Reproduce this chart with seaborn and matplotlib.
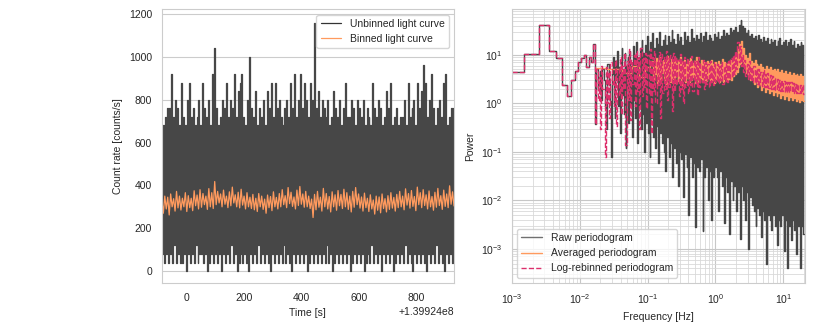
import numpy as np
import matplotlib
matplotlib.use("Agg")
import matplotlib.pyplot as plt
import seaborn as sns

# ---- light curve data ----
t_offset = 1.39924e8
t_start, t_stop = -85, 932

unbinned_peaks = [
    680, 680, 720, 760, 760, 920, 720, 800, 760, 680,
    880, 720, 680, 800, 880, 720, 760, 680, 720, 800,
    680, 880, 760, 720, 800, 680, 920, 1040, 760, 680,
    720, 800, 760, 880, 720, 800, 760, 920, 720, 840,
    880, 920, 720, 680, 800, 1000, 760, 720, 840, 680,
    760, 720, 800, 680, 840, 760, 880, 720, 880, 760,
    800, 720, 680, 760, 800, 720, 880, 760, 920, 720,
    800, 920, 760, 880, 800, 720, 880, 800, 1160, 760,
    840, 720, 800, 760, 720, 800, 680, 720, 840, 760,
    720, 800, 680, 760, 880, 720, 720, 800, 760, 680,
    800, 760, 720, 800, 680, 760, 720, 680, 880, 760,
    720, 800, 760, 680, 720, 840, 760, 880, 680, 720,
    760, 680, 720, 720, 800, 680, 880, 720, 760, 800,
    680, 880, 760, 840, 960, 880, 720, 800, 920, 760,
    680, 760, 800, 720, 880, 920, 680, 720, 760, 760,
]
unbinned_troughs = [
    80, 40, 80, 40, 80, 40, 120, 40, 80, 40,
    40, 80, 0, 80, 40, 80, 40, 120, 40, 80,
    80, 40, 80, 0, 40, 80, 40, 80, 40, 80,
    0, 80, 40, 80, 40, 120, 40, 80, 0, 40,
    80, 40, 80, 40, 0, 80, 40, 80, 40, 120,
    40, 80, 40, 80, 40, 0, 80, 40, 80, 40,
    80, 40, 120, 40, 80, 40, 0, 80, 40, 80,
    40, 80, 40, 80, 0, 40, 80, 40, 80, 40,
    80, 40, 80, 40, 120, 40, 80, 0, 40, 80,
    40, 80, 40, 80, 40, 80, 0, 40, 80, 40,
    80, 40, 80, 0, 40, 80, 40, 120, 40, 80,
    40, 80, 0, 80, 40, 80, 40, 80, 0, 40,
    80, 40, 80, 40, 120, 40, 80, 40, 0, 80,
    40, 80, 40, 80, 40, 0, 80, 40, 80, 40,
    120, 40, 80, 40, 0, 80, 40, 80, 40, 80,
]
binned_rate = [
    330, 270, 350, 290, 345, 262, 360, 300, 338, 280, 372, 295, 350, 285, 340, 300, 366, 278, 352, 296,
    340, 282, 375, 305, 355, 290, 380, 298, 362, 310, 350, 288, 385, 300, 366, 292, 418, 310, 372, 318,
    360, 300, 378, 312, 350, 296, 370, 305, 392, 318, 356, 300, 368, 295, 382, 308, 350, 290, 366, 300,
    345, 292, 358, 286, 340, 278, 362, 300, 350, 288, 336, 270, 355, 296, 348, 282, 370, 300, 344, 290,
    362, 300, 380, 310, 352, 296, 390, 315, 368, 302, 346, 290, 378, 306, 395, 312, 360, 298, 372, 300,
    350, 292, 336, 250, 358, 286, 372, 298, 345, 280, 386, 300, 362, 290, 348, 276, 370, 300, 356, 284,
    376, 305, 358, 292, 382, 300, 366, 288, 350, 276, 372, 298, 390, 310, 360, 294, 346, 280, 364, 296,
    340, 278, 356, 290, 332, 266, 350, 284, 346, 272, 360, 292, 338, 276, 352, 288, 366, 294, 344, 280,
    358, 296, 372, 300, 350, 286, 384, 308, 362, 294, 376, 302, 348, 282, 392, 310, 366, 296, 380, 306,
    356, 290, 374, 300, 348, 284, 368, 298, 386, 306, 352, 288, 378, 302, 360, 296, 398, 312, 370, 304,
]

# ---- periodogram data ----
raw_low = [
    4.4, 10.5, 41, 12, 8.7, 2.4, 1.4, 3.0, 4.6, 7.0,
    8.5, 10.0, 5.5, 9.0, 7.0, 17, 0.37, 5.0, 2.0, 4.6,
    1.2, 5.2, 3.0, 0.9, 0.3, 6.5, 2.5, 1.1, 0.08, 4.0,
    9.0, 1.0, 0.5, 7.5, 3.0, 12, 0.9, 5.5, 2.2, 0.25,
    8.0, 14, 1.5, 4.0, 0.6, 11, 3.5, 0.12, 6.0, 2.0,
]
raw_high = [
    9, 12, 6, 15, 10, 18, 8, 14, 20, 11,
    16, 25, 12, 18, 28, 14, 22, 17, 30, 15,
    20, 26, 16, 24, 18, 32, 21, 17, 27, 19,
    23, 16, 29, 20, 25, 18, 34, 22, 19, 26,
    21, 28, 18, 24, 30, 20, 26, 22, 19, 27,
    23, 29, 21, 25, 32, 24, 28, 26, 35, 30,
    33, 38, 30, 42, 52, 40, 35, 28, 32, 25,
    27, 22, 24, 20, 26, 21, 18, 23, 19, 22,
    17, 21, 18, 20, 15, 19, 22, 16, 18, 20,
    15, 18, 21, 16, 19, 14, 17, 15, 18, 16,
]
raw_dips = [
    0.4, 0.9, 0.2, 1.2, 0.5, 0.15, 0.8, 0.3, 0.6, 0.1,
    0.4, 0.25, 0.08, 0.5, 0.2, 0.12, 0.35, 0.06, 0.25, 0.15,
    0.1, 0.04, 0.2, 0.08, 0.15, 0.03, 0.12, 0.06, 0.02, 0.1,
    0.07, 0.012, 0.09, 0.05, 0.005, 0.08, 0.03, 0.06, 0.0028, 0.05,
    0.04, 0.07, 0.0024, 0.03, 0.05, 0.01, 0.04, 0.004, 0.03, 0.05,
    0.03, 0.006, 0.04, 0.02, 0.0035, 0.03, 0.015, 0.002, 0.025, 0.01,
    0.02, 0.006, 0.015, 0.0016, 0.02, 0.01, 0.004, 0.015, 0.001, 0.012,
    0.008, 0.006, 0.003, 0.007, 0.005, 0.0018, 0.006, 0.004, 0.0005, 0.005,
    0.004, 0.0025, 0.005, 0.003, 0.0012, 0.004, 0.003, 0.005, 0.0009, 0.004,
    0.0004, 0.003, 0.0015, 0.004, 0.0025, 0.0008, 0.003, 0.0004, 0.003, 0.002,
]
avg_low = [5.3, 5.0, 4.2, 6.0, 3.5, 5.5]
avg_high = [
    7.5, 6.0, 8.5, 7.0, 9.0, 6.5, 8.0, 7.2, 9.5, 6.8,
    8.2, 7.0, 8.8, 6.5, 7.8, 9.2, 7.0, 8.0, 6.6, 7.4,
    8.5, 6.8, 7.6, 9.0, 7.2, 6.4, 8.0, 7.0, 6.2, 7.5,
    6.8, 7.8, 6.5, 7.2, 6.0, 7.4, 6.6, 8.2, 7.0, 6.4,
    7.2, 8.0, 7.5, 9.0, 10.5, 13.0, 16.5, 19.0, 14.0, 10.0,
    8.5, 11.0, 7.5, 6.8, 8.0, 6.4, 5.8, 6.5, 5.6, 5.2,
    5.8, 5.0, 5.5, 4.8, 5.2, 4.6, 5.0, 4.4, 4.8, 4.2,
    4.6, 4.0, 4.4, 3.9, 4.3, 3.8, 4.1, 3.7, 4.0, 3.6,
]
avg_dips = [
    3.0, 4.0, 2.6, 3.5, 2.8, 4.2, 3.0, 2.5, 3.6, 2.8,
    3.2, 2.6, 3.8, 2.9, 3.3, 2.4, 3.6, 2.8, 3.4, 2.7,
    3.0, 3.5, 2.6, 3.2, 2.8, 3.4, 2.7, 3.1, 2.9, 3.3,
    2.8, 3.0, 2.6, 3.2, 2.9, 2.7, 3.1, 2.8, 3.4, 3.0,
    3.2, 3.0, 3.6, 4.0, 4.5, 5.5, 6.5, 7.0, 5.5, 4.2,
    3.6, 3.0, 3.4, 2.5, 2.8, 2.2, 2.4, 1.9, 2.2, 1.7,
    2.0, 1.6, 1.8, 1.5, 1.7, 1.4, 1.6, 1.3, 1.5, 1.25,
    1.4, 1.2, 1.35, 1.15, 1.3, 1.1, 1.25, 1.05, 1.2, 1.1,
]
reb_high = [
    5.0, 3.5, 6.0, 2.0, 5.5, 4.5, 7.0, 3.0, 8.0, 5.0,
    9.0, 6.0, 11.0, 7.5, 13.0, 8.0, 10.0, 12.0, 9.0, 14.0,
    8.5, 11.0, 10.0, 13.0, 9.0, 12.0, 8.0, 11.5, 10.5, 9.0,
    12.0, 8.5, 10.0, 11.0, 9.5, 8.0, 10.5, 7.5, 9.0, 8.5,
    7.0, 9.5, 8.0, 7.5, 9.0, 6.5, 8.0, 7.0, 6.5, 7.5,
    6.0, 7.0, 6.5, 5.8, 7.2, 6.0, 6.8, 7.5, 8.5, 10.0,
    12.0, 18.0, 15.0, 10.0, 8.0, 6.5, 7.5, 5.5, 6.0, 5.0,
    5.2, 4.4, 4.8, 4.0, 4.2, 3.8, 3.6, 3.4, 3.2, 3.1,
    3.0, 2.9, 2.8, 2.75, 2.7, 2.6, 2.55, 2.5, 2.45, 2.4,
]
reb_dips = [
    1.2, 0.3, 2.0, 0.08, 1.0, 0.5, 2.5, 0.9, 0.35, 1.5,
    0.6, 2.0, 0.14, 1.2, 0.45, 2.5, 0.9, 1.8, 0.3, 1.4,
    2.2, 0.8, 1.5, 0.25, 1.8, 1.0, 2.4, 0.5, 1.6, 2.0,
    1.2, 2.2, 0.7, 1.8, 2.4, 1.4, 2.0, 1.0, 2.2, 1.6,
    2.4, 1.8, 2.6, 1.5, 2.2, 2.8, 2.0, 2.5, 2.2, 2.7,
    2.4, 2.8, 2.6, 3.0, 2.5, 2.9, 2.7, 3.2, 3.5, 4.0,
    5.0, 7.0, 6.0, 4.5, 3.6, 3.2, 3.0, 2.8, 2.6, 2.5,
    2.4, 2.3, 2.2, 2.15, 2.1, 2.0, 1.95, 1.9, 1.85, 1.8,
    1.78, 1.75, 1.72, 1.7, 1.68, 1.65, 1.63, 1.6, 1.6, 1.58,
]


def interleave(a, b):
    out = np.empty(len(a) + len(b))
    out[0::2] = a
    out[1::2] = b
    return out


# unbinned curve alternates peak / trough values
unbinned_rate = interleave(unbinned_peaks, unbinned_troughs)
t_unbinned = t_offset + np.linspace(t_start, t_stop, len(unbinned_rate))
t_binned = t_offset + np.linspace(t_start, t_stop, len(binned_rate))

raw_freq = np.concatenate([np.arange(1, 51) * 1e-3, np.geomspace(0.051, 20, 200)])
raw_power = np.concatenate([raw_low, interleave(raw_high, raw_dips)])
avg_freq = np.concatenate([np.arange(1, 7) / 60, np.geomspace(0.117, 20, 160)])
avg_power = np.concatenate([avg_low, interleave(avg_high, avg_dips)])
reb_freq = np.concatenate([np.arange(1, 18) * 1e-3, np.geomspace(0.018, 20, 180)])
reb_power = np.concatenate([raw_low[:17], interleave(reb_high, reb_dips)])

sns.set_style("whitegrid")
plt.rcParams["font.family"] = ["Liberation Sans", "DejaVu Sans"]
plt.rcParams["font.size"] = 7.5

dark = "#474747"
orange = "#ff9a5e"
pink = "#dc2f6b"

fig = plt.figure(figsize=(8.3, 3.32), dpi=100)
ax1 = fig.add_axes([0.195, 0.148, 0.352, 0.824])
ax2 = fig.add_axes([0.617, 0.148, 0.353, 0.824])

# Light curve
sns.lineplot(x=t_unbinned, y=unbinned_rate, ax=ax1, color=dark, lw=0.9,
             drawstyle="steps-mid", label="Unbinned light curve", sort=False, estimator=None)
sns.lineplot(x=t_binned, y=binned_rate, ax=ax1, color=orange, lw=0.9,
             label="Binned light curve", sort=False, estimator=None)
ax1.set_xlim(t_offset + t_start, t_offset + t_stop)
ax1.set_ylim(-55, 1222)
ax1.grid(False, axis="x")
ax1.set_xlabel("Time [s]", fontsize=7.5)
ax1.set_ylabel("Count rate [counts/s]", fontsize=7.5)
ax1.tick_params(labelsize=7.5)
leg1 = ax1.legend(loc="upper right", fontsize=7.5)
leg1.get_lines()[0].set_color("#333333")

# Periodograms
sns.lineplot(x=raw_freq, y=raw_power, ax=ax2, color=dark, lw=1.0,
             drawstyle="steps-mid", label="Raw periodogram", sort=False, estimator=None)
sns.lineplot(x=avg_freq, y=avg_power, ax=ax2, color=orange, lw=1.0,
             drawstyle="steps-mid", label="Averaged periodogram", sort=False, estimator=None)
sns.lineplot(x=reb_freq, y=reb_power, ax=ax2, color=pink, lw=1.0, ls="--",
             drawstyle="steps-mid", label="Log-rebinned periodogram", sort=False, estimator=None)
ax2.set_xscale("log")
ax2.set_yscale("log")
ax2.set_xlim(1e-3, 21)
ax2.set_ylim(2e-4, 87)
ax2.grid(True, which="major", color=".78", lw=0.8)
ax2.grid(True, which="minor", color=".85", lw=0.6)
ax2.set_xlabel("Frequency [Hz]", fontsize=7.5)
ax2.set_ylabel("Power", fontsize=7.5)
ax2.tick_params(labelsize=7.5)
leg2 = ax2.legend(loc="lower left", fontsize=7.5)
leg2.get_lines()[0].set_color("#707070")

fig.savefig("out.png", dpi=100)
